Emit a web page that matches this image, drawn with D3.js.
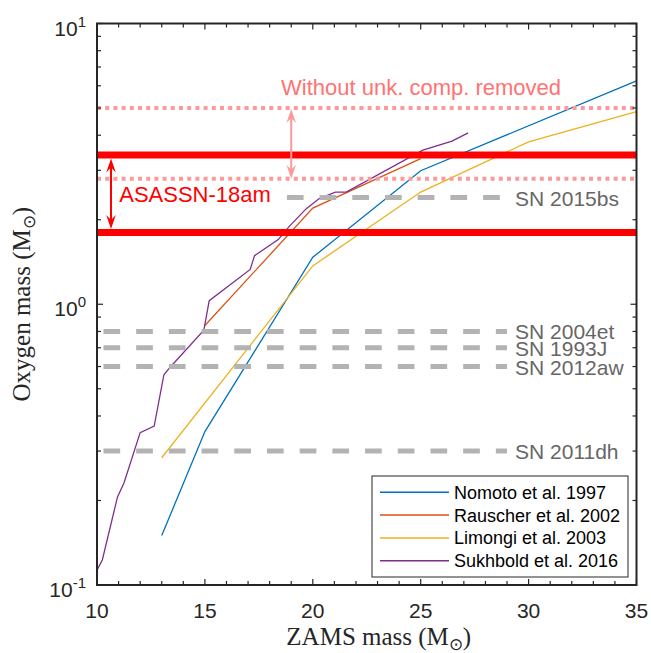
<!DOCTYPE html>
<html><head><meta charset="utf-8">
<script src="https://cdn.jsdelivr.net/npm/d3@7"></script>
<style>body{margin:0;background:#fff}</style>
</head><body>
<svg id="c" width="651" height="653"></svg>
<script>
// ---------------- data ----------------
const xTicks = [10, 15, 20, 25, 30, 35];
const yTickExps = [-1, 0, 1];
const nomotoX = [13, 15, 20, 25, 35];
const nomotoY = [0.150, 0.352, 1.47, 2.99, 6.25];
const rauscherX = [15, 20, 25];
const rauscherY = [0.84, 2.20, 3.30];
const limongiX = [13, 20, 25, 30, 35];
const limongiY = [0.284, 1.37, 2.51, 3.79, 4.85];
const sukhboldX = [10.0, 10.25, 10.95, 11.25, 12.0, 12.65, 13.1, 13.4, 14.95, 15.2, 17.1, 17.3, 18.4, 18.9, 19.7, 20.3, 21.05, 21.55, 25.1, 26.45, 27.2];
const sukhboldY = [0.113, 0.123, 0.206, 0.231, 0.349, 0.368, 0.561, 0.598, 0.808, 1.03, 1.33, 1.49, 1.70, 1.89, 2.19, 2.38, 2.51, 2.51, 3.54, 3.81, 4.08];
const seriesNames = ["Nomoto et al. 1997", "Rauscher et al. 2002", "Limongi et al. 2003", "Sukhbold et al. 2016"];
const seriesColors = ["#0072BD", "#D95319", "#EDB120", "#7E2F8E"];
const snNames = ["SN 2015bs", "SN 2004et", "SN 1993J", "SN 2012aw", "SN 2011dh"];
const snOxygen = [2.4, 0.8, 0.7, 0.6, 0.3];
const snStartMass = [18.8, 10.3, 10.3, 10.3, 10.3];
const snEndMass = 29;
const asassnRange = [1.8, 3.4];
const withoutUnkRange = [2.8, 5.0];
const asassnLabel = "ASASSN-18am";
const withoutLabel = "Without unk. comp. removed";

// ---------------- layout ----------------
const W = 651, H = 653;
const m = {l: 97, r: 14.5, t: 23.5, b: 68};
const svg = d3.select("#c");
const x = d3.scaleLinear().domain([10, 35]).range([m.l, W - m.r]);
const y = d3.scaleLog().domain([0.1, 10]).range([H - m.b, m.t]);
const axisCol = "#262626";
const sans = "'Liberation Sans', Arial, Helvetica, sans-serif";
const serif = "'Liberation Serif', 'Times New Roman', serif";

const series = [
  {xs: nomotoX, ys: nomotoY},
  {xs: rauscherX, ys: rauscherY},
  {xs: limongiX, ys: limongiY},
  {xs: sukhboldX, ys: sukhboldY}
];
const line = d3.line().x(d => x(d[0])).y(d => y(d[1]));

svg.append("clipPath").attr("id", "pc").append("rect")
  .attr("x", m.l).attr("y", m.t).attr("width", W - m.l - m.r).attr("height", H - m.t - m.b);
const g = svg.append("g").attr("clip-path", "url(#pc)");

// curves
series.forEach((s, i) => {
  g.append("path").datum(s.xs.map((v, k) => [v, s.ys[k]]))
    .attr("d", line).attr("fill", "none")
    .attr("stroke", seriesColors[i]).attr("stroke-width", 1.3);
});

// SN dashed lines
snNames.forEach((n, i) => {
  g.append("line")
    .attr("x1", x(snStartMass[i])).attr("x2", x(snEndMass))
    .attr("y1", y(snOxygen[i])).attr("y2", y(snOxygen[i]))
    .attr("stroke", "#b3b3b3").attr("stroke-width", 5)
    .attr("stroke-dasharray", "16.7,16");
  svg.append("text").attr("x", x(snEndMass) + 8).attr("y", y(snOxygen[i]) + 8)
    .attr("font-family", sans).attr("font-size", 21).attr("fill", "#666666")
    .text(n);
});

// pink dotted
withoutUnkRange.forEach(v => {
  g.append("line").attr("x1", x(10)).attr("x2", x(35)).attr("y1", y(v)).attr("y2", y(v))
    .attr("stroke", "#ff9999").attr("stroke-width", 4).attr("stroke-dasharray", "4,4.2");
});
// red thick
asassnRange.forEach(v => {
  g.append("line").attr("x1", x(10)).attr("x2", x(35)).attr("y1", y(v)).attr("y2", y(v))
    .attr("stroke", "#ff0000").attr("stroke-width", 7);
});

function head(xp, yp, dir, col) {
  const L = 14, Wd = 4.8, N = 9;
  const p = [[xp, yp], [xp - Wd, yp - dir * L], [xp, yp - dir * N], [xp + Wd, yp - dir * L]];
  svg.append("path").attr("d", "M" + p.map(q => q.join(",")).join("L") + "Z").attr("fill", col);
}
function dblArrow(xm, yTop, yBot, col) {
  const xp = x(xm);
  svg.append("line").attr("x1", xp).attr("x2", xp).attr("y1", yTop + 6).attr("y2", yBot - 6)
    .attr("stroke", col).attr("stroke-width", 2);
  head(xp, yTop, -1, col);
  head(xp, yBot, 1, col);
}
dblArrow(19.0, y(withoutUnkRange[1]) + 1, y(withoutUnkRange[0]), "#ff9999");
dblArrow(10.65, y(asassnRange[1]) + 3.5, y(asassnRange[0]) - 3.5, "#ff0000");

svg.append("text").attr("x", x(18.53)).attr("y", y(withoutUnkRange[1]) - 13)
  .attr("font-family", sans).attr("font-size", 22).attr("fill", "#ff7373").text(withoutLabel);
svg.append("text").attr("x", x(11.03)).attr("y", y(snOxygen[0]) + 4)
  .attr("font-family", sans).attr("font-size", 22).attr("fill", "#ff0000").text(asassnLabel);

// ---------------- axes ----------------
const x0 = m.l, x1 = W - m.r, y0 = H - m.b, y1 = m.t;
const ax = svg.append("g").attr("stroke", axisCol).attr("stroke-width", 1.2);
d3.range(10, 36, 1).forEach(v => {
  const major = xTicks.includes(v);
  const len = major ? 6 : 4;
  ax.append("line").attr("x1", x(v)).attr("x2", x(v)).attr("y1", y0).attr("y2", y0 - len);
  ax.append("line").attr("x1", x(v)).attr("x2", x(v)).attr("y1", y1).attr("y2", y1 + len);
});
yTickExps.forEach(e => {
  const base = Math.pow(10, e);
  ax.append("line").attr("x1", x0).attr("x2", x0 + 6).attr("y1", y(base)).attr("y2", y(base));
  ax.append("line").attr("x1", x1).attr("x2", x1 - 6).attr("y1", y(base)).attr("y2", y(base));
  if (e < 1) d3.range(2, 10).forEach(k => {
    const v = k * base;
    ax.append("line").attr("x1", x0).attr("x2", x0 + 4).attr("y1", y(v)).attr("y2", y(v));
    ax.append("line").attr("x1", x1).attr("x2", x1 - 4).attr("y1", y(v)).attr("y2", y(v));
  });
});

// legend
const lg = svg.append("g");
const lgX = 372, lgY = 476, lgW = 256, lgH = 101;
lg.append("rect").attr("x", lgX).attr("y", lgY).attr("width", lgW).attr("height", lgH)
  .attr("fill", "#fff").attr("stroke", axisCol).attr("stroke-width", 1);
seriesNames.forEach((n, i) => {
  const yy = lgY + 16.3 + i * 22.8;
  lg.append("line").attr("x1", lgX + 8).attr("x2", lgX + 77).attr("y1", yy).attr("y2", yy)
    .attr("stroke", seriesColors[i]).attr("stroke-width", 1.5);
  lg.append("text").attr("x", lgX + 82).attr("y", yy + 6.5).attr("font-family", sans)
    .attr("font-size", 18).attr("fill", "#000").text(n);
});

// frame
svg.append("rect").attr("x", x0).attr("y", y1).attr("width", x1 - x0).attr("height", y0 - y1)
  .attr("fill", "none").attr("stroke", axisCol).attr("stroke-width", 2);

// tick labels
xTicks.forEach(v => {
  svg.append("text").attr("x", x(v)).attr("y", y0 + 33).attr("text-anchor", "middle")
    .attr("font-family", sans).attr("font-size", 21).attr("fill", axisCol).text(v);
});
yTickExps.forEach(e => {
  const t = svg.append("text").attr("x", x0 - 11).attr("y", y(Math.pow(10, e)) + 12)
    .attr("text-anchor", "end").attr("font-family", sans).attr("font-size", 21).attr("fill", axisCol);
  t.append("tspan").text("10");
  t.append("tspan").attr("dy", -9).attr("font-size", 15).text(String(e));
});

// axis titles
const xt = svg.append("text").attr("x", (x0 + x1) / 2 + 12).attr("y", 645).attr("text-anchor", "middle")
  .attr("font-family", serif).attr("font-size", 25).attr("fill", axisCol);
xt.append("tspan").text("ZAMS mass (M");
xt.append("tspan").attr("dy", 5).attr("font-size", 17).text("⊙");
xt.append("tspan").attr("dy", -5).text(")");

const yt = svg.append("text").attr("transform", `translate(30,${(y0 + y1) / 2}) rotate(-90)`)
  .attr("text-anchor", "middle").attr("font-family", serif).attr("font-size", 25).attr("fill", axisCol);
yt.append("tspan").text("Oxygen mass (M");
yt.append("tspan").attr("dy", 5).attr("font-size", 17).text("⊙");
yt.append("tspan").attr("dy", -5).text(")");
</script>
</body></html>
